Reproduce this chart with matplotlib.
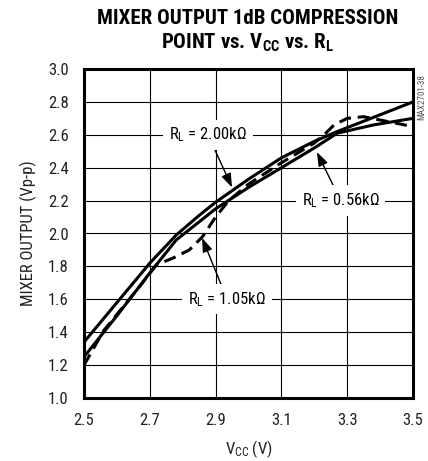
import numpy as np
import matplotlib
matplotlib.use("Agg")
import matplotlib.pyplot as plt
from matplotlib import font_manager as fm

# ---- pick a condensed sans font if available ----
entries = fm.fontManager.ttflist
names = {f.name for f in entries}
FONT, STRETCH, SCALE = 'Liberation Sans', 'normal', 0.86
for cand in ['Liberation Sans Narrow', 'Roboto Condensed', 'Open Sans Condensed', 'Noto Sans Condensed',
             'DejaVu Sans Condensed', 'Arial Narrow']:
    if cand in names:
        FONT, STRETCH, SCALE = cand, 'normal', 1.0
        break
else:
    cond = [f for f in entries if f.stretch in ('condensed', 'semi-condensed', 600, 700)
            and f.name in ('DejaVu Sans', 'Noto Sans', 'Open Sans', 'Roboto', 'Inter')]
    if cond:
        FONT, STRETCH, SCALE = cond[0].name, 'condensed', 0.95

plt.rcParams['font.family'] = [FONT, 'DejaVu Sans']
plt.rcParams['font.stretch'] = STRETCH
plt.rcParams['mathtext.fontset'] = 'custom'
suffix = ':stretch=condensed' if STRETCH == 'condensed' else ''
plt.rcParams['mathtext.rm'] = FONT + suffix
plt.rcParams['mathtext.it'] = FONT + suffix
plt.rcParams['mathtext.bf'] = FONT + ':bold' + suffix

# ---- data ----
x_200 = [2.5, 2.6, 2.7, 2.78, 2.85, 2.9, 3.0, 3.1, 3.2, 3.27, 3.5]
y_200 = [1.34, 1.58, 1.82, 1.99, 2.11, 2.19, 2.33, 2.46, 2.56, 2.62, 2.80]

x_056 = [2.5, 2.6, 2.7, 2.78, 2.9, 3.0, 3.1, 3.2, 3.27, 3.38, 3.5]
y_056 = [1.25, 1.50, 1.76, 1.96, 2.15, 2.28, 2.40, 2.52, 2.61, 2.66, 2.70]

x_105 = [2.5, 2.56, 2.67, 2.72, 2.77, 2.82, 2.86, 2.90, 2.94, 3.0, 3.1, 3.2, 3.23, 3.26, 3.30, 3.35, 3.40, 3.5]
y_105 = [1.20, 1.41, 1.68, 1.81, 1.85, 1.90, 1.98, 2.10, 2.20, 2.30, 2.43, 2.55, 2.60, 2.66, 2.70, 2.71, 2.69, 2.65]

x_ticks = [2.5, 2.7, 2.9, 3.1, 3.3, 3.5]
y_ticks = [1.0, 1.2, 1.4, 1.6, 1.8, 2.0, 2.2, 2.4, 2.6, 2.8, 3.0]

fs = 12 * SCALE
fig = plt.figure(figsize=(4.28, 4.61), dpi=100)
ax = fig.add_axes([84/428, 1-398/461, (413-84)/428, (398-69)/461])

ax.plot(x_200, y_200, color='black', lw=2.2, zorder=3, solid_joinstyle='round')
ax.plot(x_056, y_056, color='black', lw=2.2, zorder=3, solid_joinstyle='round')
ax.plot(x_105, y_105, color='black', lw=2.2, ls=(0, (4, 2.2)), zorder=3)

ax.set_xlim(2.5, 3.5)
ax.set_ylim(1.0, 3.0)
ax.set_xticks(x_ticks)
ax.set_yticks(y_ticks)
ax.set_xticklabels([f"{v:.1f}" for v in x_ticks])
ax.set_yticklabels([f"{v:.1f}" for v in y_ticks])
ax.grid(True, color='black', lw=0.8)
ax.set_axisbelow(True)
ax.tick_params(axis='y', length=0, labelsize=fs, pad=11, colors='#222222')
ax.tick_params(axis='x', length=0, labelsize=fs, pad=11, colors='#222222')
for s in ax.spines.values():
    s.set_linewidth(2.2)
    s.set_color('black')

ax.set_ylabel('MIXER OUTPUT (Vp-p)', fontsize=fs, labelpad=8, color='#222222')
ax.set_xlabel(r'V$_{\mathrm{CC}}$ (V)', fontsize=fs, labelpad=7, color='#222222')

tfs = 15 * SCALE
fig.text(248/428, 1-18/461, 'MIXER OUTPUT 1dB COMPRESSION', ha='center', va='center',
         fontsize=tfs, fontweight='bold')
fig.text(248/428, 1-43/461, r'POINT vs. $\mathbf{V_{CC}}$ vs. $\mathbf{R_L}$', ha='center', va='center',
         fontsize=tfs, fontweight='bold')

fig.text(422/428, 1-97/461, 'MAX2701-38', rotation=90, ha='center', va='center',
         fontsize=6.5 * SCALE, color='#555555')

bbox = dict(boxstyle='square,pad=0.35', fc='white', ec='none')
arrow = dict(arrowstyle='-|>,head_length=0.7,head_width=0.25', color='black', lw=1.0,
             shrinkA=0, shrinkB=0)
ax.annotate('R$_\\mathrm{L}$ = 2.00k\u03a9', xy=(2.95, 2.28), xytext=(2.877, 2.60),
            ha='center', va='center', fontsize=fs, bbox=bbox, arrowprops=arrow, zorder=4)
ax.annotate('R$_\\mathrm{L}$ = 0.56k\u03a9', xy=(3.208, 2.495), xytext=(3.28, 2.20),
            ha='center', va='center', fontsize=fs, bbox=bbox, arrowprops=arrow, zorder=4)
ax.annotate('R$_\\mathrm{L}$ = 1.05k\u03a9', xy=(2.859, 1.973), xytext=(2.935, 1.60),
            ha='center', va='center', fontsize=fs, bbox=bbox, arrowprops=arrow, zorder=4)

fig.savefig('out.png', dpi=100)
